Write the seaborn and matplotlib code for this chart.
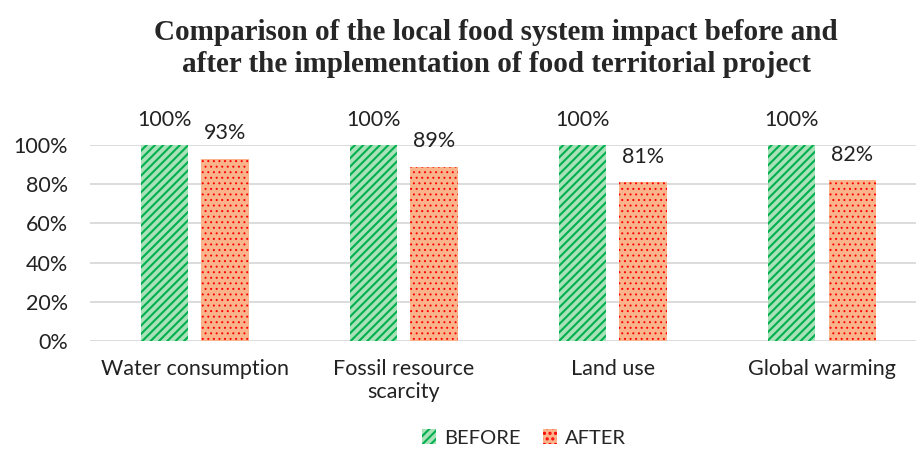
import matplotlib
matplotlib.use('Agg')
import matplotlib.pyplot as plt
from matplotlib.patches import Patch
import seaborn as sns
import pandas as pd

categories = ['Water consumption', 'Fossil resource\nscarcity', 'Land use', 'Global warming']
before = [1.00, 1.00, 1.00, 1.00]
after = [0.93, 0.89, 0.81, 0.82]
series = ['BEFORE', 'AFTER']

df = pd.DataFrame({
    'Category': categories * 2,
    'Value': before + after,
    'Series': ['BEFORE'] * len(categories) + ['AFTER'] * len(categories),
})

sns.set_theme(style='white')
plt.rcParams['font.family'] = ['Lato', 'DejaVu Sans']
plt.rcParams['hatch.linewidth'] = 1.5

face = {'BEFORE': '#a9e2b8', 'AFTER': '#f9b48c'}
hatch_col = {'BEFORE': '#00b050', 'AFTER': '#ff0000'}
hatches = {'BEFORE': '////', 'AFTER': '...'}
hatch_lw = {'BEFORE': 1.5, 'AFTER': 0.7}


def style_patch(p, name):
    p.set_facecolor(face[name])
    p.set_edgecolor(hatch_col[name])
    p.set_hatch(hatches[name])
    p.set_linewidth(0)
    if hasattr(p, 'set_hatch_linewidth'):
        p.set_hatch_linewidth(hatch_lw[name])


fig = plt.figure(figsize=(9.16, 4.5), dpi=100)
ax = fig.add_axes([90 / 916, 109 / 450, 826 / 916, 196 / 450])

sns.barplot(data=df, x='Category', y='Value', hue='Series', hue_order=series,
            width=0.58, gap=0.22, ax=ax, legend=False)

for container, name in zip(ax.containers, series):
    for bar in container:
        style_patch(bar, name)
    ax.bar_label(container, labels=[f'{v * 100:.0f}%' for v in container.datavalues],
                 padding=11, fontsize=15.5, color='#222222', clip_on=False)

ax.set_xlim(-0.5, 3.45)
ax.set_ylim(0, 1.0)
ax.set_yticks([0, 0.2, 0.4, 0.6, 0.8, 1.0])
ax.set_yticklabels([f'{t}%' for t in range(0, 101, 20)])
ax.yaxis.grid(True, color='#d9d9d9', linewidth=1.3)
ax.set_axisbelow(True)
sns.despine(ax=ax, left=True, bottom=True)
ax.tick_params(axis='y', length=0, pad=16, labelsize=15.5, labelcolor='#222222')
ax.tick_params(axis='x', length=0, pad=13, labelsize=15.5, labelcolor='#222222')
ax.set_xlabel('')
ax.set_ylabel('')

fig.suptitle('Comparison of the local food system impact before and\n'
             'after the implementation of food territorial project',
             x=496 / 916, y=0.957, fontsize=21, fontweight='bold',
             family=['Liberation Serif', 'DejaVu Serif'], linespacing=1.2)

handles = []
for s in series:
    h = Patch()
    style_patch(h, s)
    handles.append(h)
fig.legend(handles, series, loc='center', bbox_to_anchor=(524 / 916, 12 / 450),
           ncol=2, frameon=False, fontsize=14.5, handlelength=0.7, handleheight=0.7,
           handletextpad=0.4, columnspacing=1.1)

fig.savefig('out.png', dpi=100)
